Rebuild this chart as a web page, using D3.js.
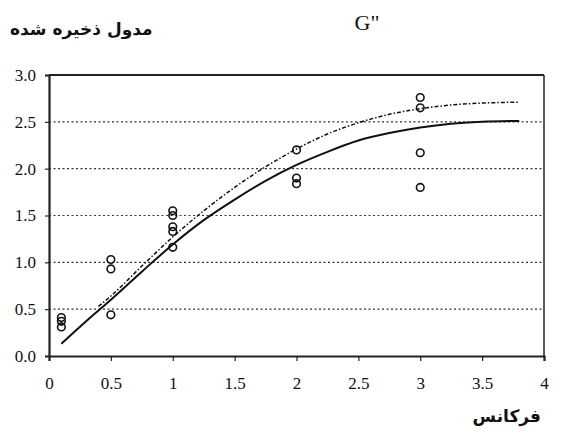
<!DOCTYPE html>
<html><head><meta charset="utf-8">
<script src="https://cdn.jsdelivr.net/npm/d3@7"></script>
<style>body{margin:0;background:#fff}svg{display:block}</style>
</head><body>
<script>
const title = 'G"';
const yTitle = "مدول ذخیره شده";
const xTitle = "فرکانس";
const xTicks = [0, 0.5, 1, 1.5, 2, 2.5, 3, 3.5, 4];
const xTickLabels = ["0", "0.5", "1", "1.5", "2", "2.5", "3", "3.5", "4"];
const yTicks = [0, 0.5, 1, 1.5, 2, 2.5, 3];
const yTickLabels = ["0.0", "0.5", "1.0", "1.5", "2.0", "2.5", "3.0"];
const pointX = [0.1, 0.1, 0.1, 0.5, 0.5, 0.5, 1, 1, 1, 1, 1, 2, 2, 2, 3, 3, 3, 3];
const pointY = [0.41, 0.37, 0.31, 1.03, 0.93, 0.44, 1.55, 1.50, 1.38, 1.33, 1.16, 2.20, 1.90, 1.84, 2.76, 2.65, 2.17, 1.80];
const solidX = [0.1, 0.3, 0.5, 0.75, 1, 1.25, 1.5, 1.75, 2, 2.25, 2.5, 2.75, 3, 3.25, 3.5, 3.8];
const solidY = [0.13, 0.37, 0.60, 0.90, 1.19, 1.45, 1.67, 1.87, 2.04, 2.18, 2.30, 2.38, 2.44, 2.48, 2.50, 2.51];
const dashX = [0.4, 0.5, 0.75, 1, 1.25, 1.5, 1.75, 2, 2.25, 2.5, 2.75, 3, 3.25, 3.5, 3.8];
const dashY = [0.53, 0.64, 0.96, 1.27, 1.55, 1.80, 2.02, 2.21, 2.37, 2.49, 2.58, 2.64, 2.68, 2.70, 2.71];

const W = 569, H = 437;
const SERIF = "'Liberation Serif', serif";
const svg = d3.select("body").append("svg").attr("width", W).attr("height", H);
const x = d3.scaleLinear().domain([0, 4]).range([49, 544]);
const y = d3.scaleLinear().domain([0, 3]).range([356, 75]);

// grid
svg.append("g").selectAll("line").data(yTicks.filter(v => v > 0 && v < 3)).join("line")
  .attr("x1", x(0)).attr("x2", x(4)).attr("y1", d => y(d)).attr("y2", d => y(d))
  .attr("stroke", "#333").attr("stroke-width", 1.2).attr("stroke-dasharray", "2,2.5");

// frame
svg.append("line").attr("x1", x(0)).attr("x2", x(4)).attr("y1", y(3)).attr("y2", y(3)).attr("stroke", "#222").attr("stroke-width", 2.2);
svg.append("line").attr("x1", x(4)).attr("x2", x(4)).attr("y1", y(3)).attr("y2", y(0)).attr("stroke", "#222").attr("stroke-width", 1.5);

// axes
const xAxis = d3.axisBottom(x).tickValues(xTicks).tickFormat((d, i) => xTickLabels[i]).tickSize(5).tickPadding(16);
const gx = svg.append("g").attr("transform", `translate(0,${y(0)})`).call(xAxis);
gx.select(".domain").attr("stroke", "#222").attr("stroke-width", 2.2);
gx.selectAll(".tick line").attr("stroke", "#222").attr("stroke-width", 1.2);
gx.selectAll("text").style("font-family", SERIF).style("font-size", "17px").attr("fill", "#111");

const yAxis = d3.axisLeft(y).tickValues(yTicks).tickFormat((d, i) => yTickLabels[i]).tickSize(4).tickPadding(9);
const gy = svg.append("g").attr("transform", `translate(${x(0)},0)`).call(yAxis);
gy.select(".domain").attr("stroke", "#222").attr("stroke-width", 2.2);
gy.selectAll(".tick line").attr("stroke", "#222").attr("stroke-width", 1.2);
gy.selectAll("text").style("font-family", SERIF).style("font-size", "17px").attr("fill", "#111");

// curves
const line = d3.line().curve(d3.curveMonotoneX);
svg.append("path").attr("d", line(dashX.map((v, i) => [x(v), y(dashY[i])])))
  .attr("fill", "none").attr("stroke", "#111").attr("stroke-width", 1.5).attr("stroke-dasharray", "4,2,1.5,2");
svg.append("path").attr("d", line(solidX.map((v, i) => [x(v), y(solidY[i])])))
  .attr("fill", "none").attr("stroke", "#111").attr("stroke-width", 2);

// points
svg.append("g").selectAll("circle").data(pointX).join("circle")
  .attr("cx", d => x(d)).attr("cy", (d, i) => y(pointY[i])).attr("r", 3.8)
  .attr("fill", "none").attr("stroke", "#111").attr("stroke-width", 1.6);

// titles
svg.append("text").attr("x", 367).attr("y", 30).attr("text-anchor", "middle")
  .style("font-family", SERIF).style("font-size", "22px").attr("fill", "#111").text(title);
svg.append("text").attr("x", 10).attr("y", 35).attr("text-anchor", "start")
  .style("font-family", "'DejaVu Sans',sans-serif").attr("font-weight", "bold").style("font-size", "17px").attr("fill", "#111").text(yTitle);
svg.append("text").attr("x", 541).attr("y", 422).attr("text-anchor", "end")
  .style("font-family", "'DejaVu Sans',sans-serif").attr("font-weight", "bold").style("font-size", "17px").attr("fill", "#111").text(xTitle);
</script>
</body></html>
